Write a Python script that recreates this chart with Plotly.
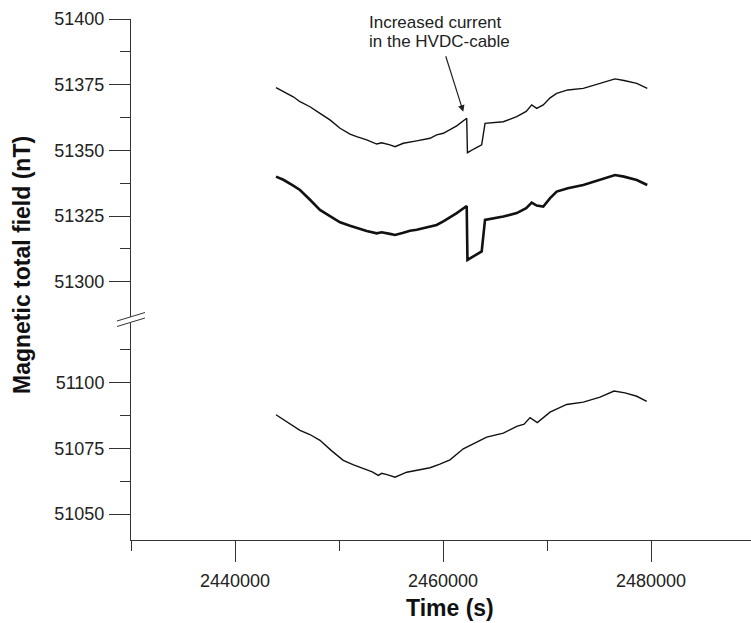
import plotly.graph_objects as go

# ---------------- data ----------------
time_upper = [2443940, 2444650, 2445600, 2446250, 2447210, 2448170, 2449130, 2450100,
              2451060, 2451700, 2452660, 2453630, 2454100, 2454900, 2455390, 2456180,
              2456830, 2457470, 2458750, 2459390, 2460030, 2460600, 2461320, 2462280,
              2462350, 2463000, 2463720, 2464040, 2465000, 2465800, 2467090, 2468000,
              2468530, 2469010, 2469640, 2470300, 2470930, 2472000, 2473490, 2475100,
              2476540, 2477400, 2478630, 2479640]
field_top = [51373.9, 51372.3, 51370.4, 51368.5, 51366.6, 51364.1, 51361.6, 51358.4,
             51356.2, 51355.2, 51354.0, 51352.4, 51352.9, 51352.1, 51351.4, 51352.7,
             51353.3, 51353.6, 51354.6, 51355.9, 51356.5, 51357.6, 51359.3, 51362.2,
             51349.1, 51350.6, 51352.1, 51360.3, 51360.6, 51360.9, 51362.8, 51364.8,
             51367.3, 51366.0, 51367.3, 51370.0, 51371.7, 51373.0, 51373.6, 51375.5,
             51377.2, 51376.6, 51375.5, 51373.6]
field_mid = [51340.0, 51338.8, 51336.6, 51334.9, 51331.2, 51327.3, 51325.0, 51322.6,
             51321.3, 51320.4, 51319.3, 51318.4, 51318.8, 51318.2, 51317.8, 51318.6,
             51319.4, 51319.8, 51321.0, 51321.6, 51323.0, 51324.3, 51326.1, 51328.8,
             51308.3, 51309.8, 51311.5, 51323.5, 51324.2, 51324.8, 51326.1, 51328.0,
             51330.1, 51329.0, 51328.6, 51331.8, 51334.3, 51335.6, 51336.8, 51338.7,
             51340.6, 51340.0, 51338.7, 51336.8]

time_lower = [2443940, 2445000, 2446250, 2447200, 2448170, 2449300, 2450410, 2451400,
              2452340, 2453200, 2453780, 2454110, 2454700, 2455390, 2456510, 2457500,
              2458750, 2459700, 2460670, 2461950, 2463000, 2464200, 2465800, 2467090,
              2467800, 2468370, 2469070, 2469500, 2470290, 2471890, 2473490, 2475100,
              2476440, 2477500, 2478630, 2479590]
field_low = [51087.7, 51085.0, 51081.8, 51080.2, 51078.0, 51074.0, 51070.4, 51068.7,
             51067.2, 51066.0, 51064.7, 51065.5, 51064.9, 51064.0, 51065.9, 51066.6,
             51067.6, 51069.0, 51070.6, 51074.8, 51077.0, 51079.2, 51080.7, 51083.3,
             51084.1, 51086.6, 51084.7, 51086.0, 51088.7, 51091.6, 51092.5, 51094.4,
             51096.7, 51096.0, 51094.7, 51092.8]

x_major = [2440000, 2460000, 2480000]
x_minor = [2430000, 2450000, 2470000]
y_upper_major = [51300, 51325, 51350, 51375, 51400]
y_upper_minor = [51312.5, 51337.5, 51362.5, 51387.5]
y_lower_major = [51050, 51075, 51100]
y_lower_minor = [51062.5, 51087.5, 51112.5]

annot_lines = ["Increased current", "in the HVDC-cable"]
arrow_tip = (2461950, 51364.7)

# ---------------- layout geometry ----------------
W, H = 751, 623
L, R, T, B = 131, 0, 19, 83
PW, PH = W - L - R, H - T - B
BREAK_PX = 319  # y pixel of axis break
split = (H - B - BREAK_PX) / PH

def px_x(px):
    return (px - L) / PW

def px_y(py):
    return (H - B - py) / PH

FONT = "Liberation Sans, Arial, sans-serif"
AX = "#333333"

fig = go.Figure()
fig.add_trace(go.Scatter(x=time_upper, y=field_top, mode="lines", yaxis="y2",
                         line=dict(color="#111111", width=1.4), showlegend=False))
fig.add_trace(go.Scatter(x=time_upper, y=field_mid, mode="lines", yaxis="y2",
                         line=dict(color="#111111", width=2.6), showlegend=False))
fig.add_trace(go.Scatter(x=time_lower, y=field_low, mode="lines", yaxis="y",
                         line=dict(color="#111111", width=1.4), showlegend=False))

common_y = dict(showline=True, linecolor=AX, linewidth=1, showgrid=False, zeroline=False,
                ticks="outside", ticklen=21, tickwidth=1, tickcolor=AX,
                tickfont=dict(family=FONT, size=18, color="#222222"),
                ticklabelstandoff=1)

fig.update_layout(
    width=W, height=H,
    margin=dict(l=L, r=R, t=T, b=B, pad=0, autoexpand=False),
    paper_bgcolor="white", plot_bgcolor="white",
    xaxis=dict(range=[2430000, 2489615], showline=True, linecolor=AX, linewidth=1,
               showgrid=False, zeroline=False, ticks="outside", ticklen=21,
               tickwidth=1, tickcolor=AX, tickmode="array", tickvals=x_major,
               ticktext=[str(v) for v in x_major],
               tickfont=dict(family=FONT, size=18, color="#222222"),
               ticklabelstandoff=3,
               minor=dict(tickmode="array", tickvals=x_minor, ticks="outside",
                          ticklen=10, tickwidth=1, tickcolor=AX)),
    yaxis=dict(domain=[0, split], range=[51040.2, 51124.0], tickmode="array",
               tickvals=y_lower_major, ticktext=[str(v) for v in y_lower_major],
               minor=dict(tickmode="array", tickvals=y_lower_minor, ticks="outside",
                          ticklen=10, tickwidth=1, tickcolor=AX),
               **common_y),
    yaxis2=dict(domain=[split, 1], range=[51285.8, 51400], anchor="x", tickmode="array",
                tickvals=y_upper_major, ticktext=[str(v) for v in y_upper_major],
                minor=dict(tickmode="array", tickvals=y_upper_minor, ticks="outside",
                           ticklen=10, tickwidth=1, tickcolor=AX),
                **common_y),
)

# axis-break marker
fig.add_shape(type="path", xref="paper", yref="paper",
              path=f"M {px_x(117)},{px_y(321)} L {px_x(145)},{px_y(312.5)} "
                   f"L {px_x(145)},{px_y(318.5)} L {px_x(117)},{px_y(326.5)} Z",
              fillcolor="white", line=dict(width=0), layer="above")
for dy in (0, 5.5):
    fig.add_shape(type="line", xref="paper", yref="paper",
                  x0=px_x(117), y0=px_y(321 + dy), x1=px_x(145), y1=px_y(312.5 + dy),
                  line=dict(color=AX, width=1))

# annotation text
for i, line in enumerate(annot_lines):
    fig.add_annotation(text=line, xref="paper", yref="paper", x=px_x(367),
                       y=px_y(23 + i * 18.7), xanchor="left", yanchor="middle",
                       showarrow=False, font=dict(family=FONT, size=17, color="#222222"))
fig.add_annotation(text="", x=arrow_tip[0], y=arrow_tip[1], xref="x", yref="y2",
                   showarrow=True, ax=-18, ay=-57, arrowhead=2, arrowsize=1.1,
                   arrowwidth=1.2, arrowcolor="#222222", standoff=0)

# axis titles
fig.add_annotation(text="<b>Time (s)</b>", xref="paper", yref="paper",
                   x=px_x(450), y=px_y(608), xanchor="center", yanchor="middle",
                   showarrow=False, font=dict(family=FONT, size=23, color="#111111"))
fig.add_annotation(text="<b>Magnetic total field (nT)</b>", xref="paper", yref="paper",
                   x=px_x(22), y=px_y(265), xanchor="center", yanchor="middle",
                   textangle=-90, showarrow=False,
                   font=dict(family=FONT, size=23, color="#111111"))

fig.write_html("out.html",
               config={"displayModeBar": False, "staticPlot": True},
               post_script="document.body.style.margin='0';"
                           "document.body.style.overflow='hidden';")
